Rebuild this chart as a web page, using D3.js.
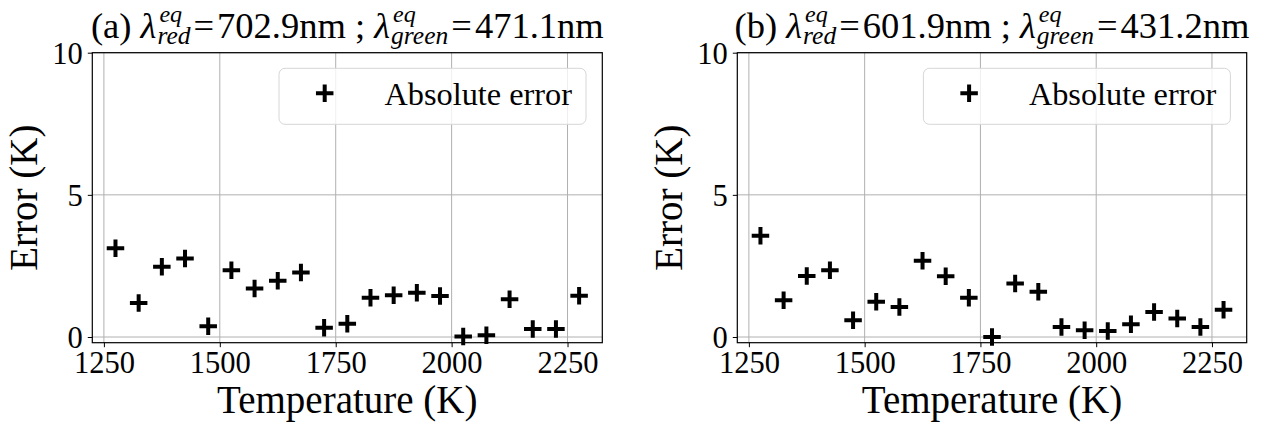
<!DOCTYPE html>
<html>
<head>
<meta charset="utf-8">
<script src="https://cdn.jsdelivr.net/npm/d3@7/dist/d3.min.js"></script>
<style>
  html, body { margin: 0; padding: 0; background: #fff; }
  svg { display: block; }
  svg text { font-family: "Liberation Serif", "Times New Roman", serif !important; fill: #000; white-space: pre; }
</style>
</head>
<body>
<svg id="chart" width="1265" height="427"></svg>
<script>
// ---- data ----
const temperatures = [1275, 1325, 1375, 1425, 1475, 1525, 1575, 1625, 1675, 1725, 1775,
                      1825, 1875, 1925, 1975, 2025, 2075, 2125, 2175, 2225, 2275];
const errorA = [3.12, 1.20, 2.47, 2.76, 0.38, 2.35, 1.71, 1.98, 2.27, 0.33, 0.47,
                1.38, 1.47, 1.56, 1.44, 0.02, 0.06, 1.33, 0.28, 0.28, 1.45];
const errorB = [3.56, 1.29, 2.15, 2.35, 0.59, 1.24, 1.06, 2.68, 2.14, 1.38, 0.00,
                1.88, 1.59, 0.35, 0.24, 0.21, 0.45, 0.88, 0.65, 0.35, 0.96];
const xTickValues = [1250, 1500, 1750, 2000, 2250];
const yTickValues = [0, 5, 10];
const panelLabels = ["(a)", "(b)"];
const redWavelengths = ["702.9", "601.9"];
const greenWavelengths = ["471.1", "431.2"];
const legendLabel = "Absolute error";
const xLabel = "Temperature (K)";
const yLabel = "Error (K)";

// ---- layout ----
const svg = d3.select("#chart");
const plotTop = 52.7, plotBottom = 342.7;
const panels = [
  { x0: 92.3, x1: 602.3, data: errorA, idx: 0 },
  { x0: 737.3, x1: 1246.7, data: errorB, idx: 1 }
];
const tickFont = 30.5, labelFont = 39, titleFont = 36.5, legendFont = 32.3;

function plusPath(size) {
  const h = size / 2;
  return `M${-h},0H${h}M0,${-h}V${h}`;
}

panels.forEach(p => {
  const x = d3.scaleLinear().domain([1225, 2325]).range([p.x0, p.x1]);
  const y = d3.scaleLinear().domain([-0.2, 10]).range([plotBottom, plotTop]);
  const g = svg.append("g");

  // grid
  g.append("g").selectAll("line").data(xTickValues).join("line")
    .attr("x1", d => x(d)).attr("x2", d => x(d)).attr("y1", plotTop).attr("y2", plotBottom)
    .attr("stroke", "#b0b0b0").attr("stroke-width", 1);
  g.append("g").selectAll("line").data(yTickValues).join("line")
    .attr("y1", d => y(d)).attr("y2", d => y(d)).attr("x1", p.x0).attr("x2", p.x1)
    .attr("stroke", "#b0b0b0").attr("stroke-width", 1);

  // axes
  const xAxis = d3.axisBottom(x).tickValues(xTickValues).tickSize(4.5).tickPadding(4.5).tickFormat(d3.format("d"));
  const yAxis = d3.axisLeft(y).tickValues(yTickValues).tickSize(4.5).tickPadding(5).tickFormat(d3.format("d"));
  const gx = g.append("g").attr("transform", `translate(0,${plotBottom})`).call(xAxis);
  const gy = g.append("g").attr("transform", `translate(${p.x0},0)`).call(yAxis);
  [gx, gy].forEach(a => {
    a.attr("font-family", null).attr("font-size", null);
    a.select(".domain").remove();
    a.selectAll(".tick line").attr("stroke", "#000").attr("stroke-width", 1);
    a.selectAll(".tick text").attr("font-size", tickFont).attr("fill", "#000");
  });
  gy.selectAll(".tick text").attr("dy", "0.34em");

  // frame
  g.append("rect").attr("x", p.x0).attr("y", plotTop).attr("width", p.x1 - p.x0).attr("height", plotBottom - plotTop)
    .attr("fill", "none").attr("stroke", "#000").attr("stroke-width", 1.2);

  // points
  g.append("g").selectAll("path").data(temperatures.map((t, i) => [t, p.data[i]])).join("path")
    .attr("transform", d => `translate(${x(d[0])},${y(d[1])})`)
    .attr("d", plusPath(17.5))
    .attr("stroke", "#000").attr("stroke-width", 4).attr("fill", "none");

  // legend
  const lg = g.append("g").attr("transform", `translate(${p.x1 - 16.3 - 307},${plotTop + 15.6})`);
  lg.append("rect").attr("width", 307).attr("height", 56).attr("rx", 6)
    .attr("fill", "rgba(255,255,255,0.8)").attr("stroke", "#d6d6d6").attr("stroke-width", 1);
  lg.append("path").attr("transform", "translate(45.7,25)").attr("d", plusPath(17.5))
    .attr("stroke", "#000").attr("stroke-width", 4).attr("fill", "none");
  lg.append("text").attr("x", 105.5).attr("y", 37).attr("font-size", legendFont).text(legendLabel);

  // axis labels
  g.append("text").attr("x", (p.x0 + p.x1) / 2).attr("y", 412.5).attr("text-anchor", "middle")
    .attr("font-size", labelFont).text(xLabel);
  g.append("text").attr("transform", `translate(${p.x0 - 55},${(plotTop + plotBottom) / 2}) rotate(-90)`)
    .attr("text-anchor", "middle").attr("font-size", labelFont).text(yLabel);

  // title with math
  const tg = g.append("g");
  let cursor = 0;
  function put(str, opts = {}) {
    const t = tg.append("text").attr("x", cursor + (opts.dx || 0)).attr("y", opts.dy || 0)
      .attr("font-size", opts.fs || titleFont)
      .attr("font-style", opts.italic ? "italic" : "normal")
      .text(str);
    return t.node().getComputedTextLength();
  }
  function lambda(sub, sup) {
    cursor += put("λ", { italic: true });
    const ws = put(sub, { italic: true, fs: titleFont * 0.7, dy: titleFont * 0.19, dx: 1 });
    const wp = put(sup, { italic: true, fs: titleFont * 0.66, dy: -titleFont * 0.425, dx: 3 });
    cursor += Math.max(ws + 1, wp + 3) + 3;
  }
  cursor += put(panelLabels[p.idx] + " ");
  lambda("red", "eq");
  cursor += put("=");
  cursor += 3;
  cursor += put(redWavelengths[p.idx] + "nm ; ");
  lambda("green", "eq");
  cursor += put("=");
  cursor += 3;
  cursor += put(greenWavelengths[p.idx] + "nm");
  tg.attr("transform", `translate(${(p.x0 + p.x1) / 2 - cursor / 2},37.5)`);
});
</script>
</body>
</html>
